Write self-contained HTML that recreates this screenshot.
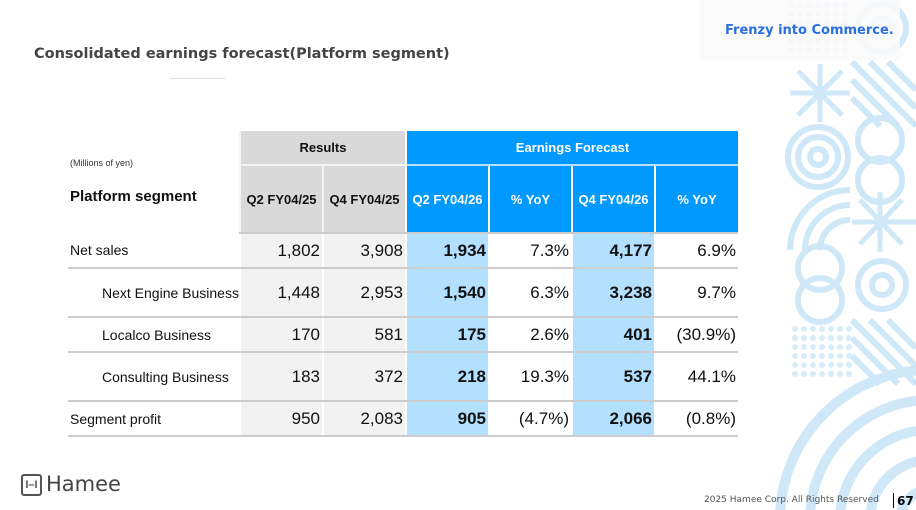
<!DOCTYPE html>
<html><head><meta charset="utf-8"><style>
html,body{margin:0;width:916px;height:510px;overflow:hidden}
body{position:relative;background:#fff;font-family:"Liberation Sans",Arial,sans-serif;}
.a{position:absolute;white-space:nowrap}
table{position:absolute;left:68px;top:131px;width:670px;border-collapse:collapse;table-layout:fixed;}
td{padding:0 2px;font-size:17px;color:#111;white-space:nowrap;overflow:hidden}
.g{background:#d9d9d9;font-weight:bold;font-size:13px;text-align:center;border-left:2px solid #f4f4f4;padding:0}
.b{background:#0099ff;color:#fff;font-weight:bold;font-size:13px;text-align:center;border-left:2px solid #fff;padding:0}
.r td{border-bottom:2px solid #ccc;}
.n{text-align:right;background:#f2f2f2;border-left:2px solid #fff}
.f{text-align:right;background:#b3e0ff;font-weight:bold;border-left:2px solid #fff}
.p{text-align:right;border-left:2px solid #fff}
.l{font-size:14px}
</style></head><body>
<svg class="a" style="left:0;top:0" width="916" height="510" fill="none" stroke="#cfe8f8" stroke-width="6">
<g fill="#d6ecfa" stroke="none">
<g id="dt"><circle cx="791" cy="5" r="3"/><circle cx="800" cy="5" r="3"/><circle cx="809" cy="5" r="3"/><circle cx="818" cy="5" r="3"/><circle cx="827" cy="5" r="3"/><circle cx="836" cy="5" r="3"/><circle cx="845" cy="5" r="3"/></g>
<use href="#dt" y="9"/><use href="#dt" y="18"/><use href="#dt" y="27"/><use href="#dt" y="36"/><use href="#dt" y="45"/>
<use href="#dt" x="4" y="324"/><use href="#dt" x="4" y="333"/><use href="#dt" x="4" y="342"/><use href="#dt" x="4" y="351"/><use href="#dt" x="4" y="360"/><use href="#dt" x="4" y="369"/>
</g>
<circle cx="882" cy="28" r="10"/><circle cx="882" cy="28" r="24"/>
<g stroke-width="5"><line x1="820" y1="64" x2="820" y2="122"/><line x1="790" y1="93" x2="850" y2="93"/><line x1="798" y1="71" x2="842" y2="115"/><line x1="842" y1="71" x2="798" y2="115"/></g>
<g stroke-width="6"><line x1="852" y1="62" x2="916" y2="126"/><line x1="852" y1="80" x2="898" y2="126"/><line x1="852" y1="98" x2="880" y2="126"/><line x1="870" y1="62" x2="916" y2="108"/><line x1="888" y1="62" x2="916" y2="90"/></g>
<circle cx="818" cy="157" r="8"/><circle cx="818" cy="157" r="20"/><circle cx="818" cy="157" r="30"/>
<circle cx="880" cy="140" r="22"/><circle cx="880" cy="180" r="22"/>
<path d="M790 250 A60 60 0 0 1 850 190 M805 250 A45 45 0 0 1 850 205 M820 250 A30 30 0 0 1 850 220"/>
<g stroke-width="5"><line x1="880" y1="192" x2="880" y2="252"/><line x1="852" y1="222" x2="916" y2="222"/><line x1="860" y1="200" x2="902" y2="244"/><line x1="902" y1="200" x2="860" y2="244"/></g>
<circle cx="820" cy="268" r="22"/><circle cx="820" cy="300" r="22"/>
<circle cx="882" cy="285" r="10"/><circle cx="882" cy="285" r="24"/>
<g stroke-width="6"><line x1="852" y1="320" x2="916" y2="384"/><line x1="852" y1="338" x2="898" y2="384"/><line x1="852" y1="356" x2="880" y2="384"/><line x1="870" y1="320" x2="916" y2="366"/><line x1="888" y1="320" x2="916" y2="348"/></g>
<circle cx="930" cy="520" r="30" stroke-width="10"/><circle cx="930" cy="520" r="60" stroke-width="10"/><circle cx="930" cy="520" r="90" stroke-width="10"/><circle cx="930" cy="520" r="120" stroke-width="10"/><circle cx="930" cy="520" r="150" stroke-width="10"/>
</svg>
<div class="a" style="left:700px;top:0;width:200px;height:60px;background:rgba(250,250,250,.85)"></div>
<div class="a" style="left:725px;top:23px;font-size:13px;font-weight:bold;color:#2a6fe0;font-family:'DejaVu Sans',sans-serif">Frenzy into Commerce.</div>
<div class="a" style="left:34px;top:46px;font-size:14.5px;font-weight:bold;color:#444;font-family:'DejaVu Sans',sans-serif">Consolidated earnings forecast(Platform segment)</div>
<div class="a" style="left:170px;top:78px;width:55px;height:1px;background:#ddd"></div>
<div class="a" style="left:70px;top:158px;font-size:9px;color:#333">(Millions of yen)</div>
<table>
<colgroup><col style="width:172px"><col style="width:83px"><col style="width:83px"><col style="width:83px"><col style="width:83px"><col style="width:83px"><col style="width:83px"></colgroup>
<tr style="height:34px"><td rowspan="2" style="vertical-align:bottom;padding:0 0 28px 2px;font-weight:bold;font-size:15px">Platform segment</td><td class="g" colspan="2" style="border-bottom:2px solid #f4f4f4">Results</td><td class="b" colspan="4" style="border-bottom:2px solid #b3e0ff">Earnings Forecast</td></tr>
<tr style="height:68px" class="r"><td class="g">Q2 FY04/25</td><td class="g">Q4 FY04/25</td><td class="b">Q2 FY04/26</td><td class="b">% YoY</td><td class="b">Q4 FY04/26</td><td class="b">% YoY</td></tr>
<tr style="height:35px" class="r"><td class="l" style="padding-left:2px">Net sales</td><td class="n">1,802</td><td class="n">3,908</td><td class="f">1,934</td><td class="p">7.3%</td><td class="f">4,177</td><td class="p">6.9%</td></tr>
<tr style="height:49px" class="r"><td class="l" style="padding-left:34px">Next Engine Business</td><td class="n">1,448</td><td class="n">2,953</td><td class="f">1,540</td><td class="p">6.3%</td><td class="f">3,238</td><td class="p">9.7%</td></tr>
<tr style="height:35px" class="r"><td class="l" style="padding-left:34px">Localco Business</td><td class="n">170</td><td class="n">581</td><td class="f">175</td><td class="p">2.6%</td><td class="f">401</td><td class="p">(30.9%)</td></tr>
<tr style="height:49px" class="r"><td class="l" style="padding-left:34px">Consulting Business</td><td class="n">183</td><td class="n">372</td><td class="f">218</td><td class="p">19.3%</td><td class="f">537</td><td class="p">44.1%</td></tr>
<tr style="height:35px" class="r"><td class="l" style="padding-left:2px">Segment profit</td><td class="n">950</td><td class="n">2,083</td><td class="f">905</td><td class="p">(4.7%)</td><td class="f">2,066</td><td class="p">(0.8%)</td></tr>
</table>
<div class="a" style="left:21px;top:474px;width:17px;height:18px;border:2px solid #555;border-radius:3px;font-size:11px;font-weight:bold;color:#555;text-align:center;line-height:18px">I–I</div>
<div class="a" style="left:46px;top:472px;font-size:21px;color:#444;font-family:'DejaVu Sans',sans-serif">Hamee</div>
<div class="a" style="left:704px;top:495px;font-size:9px;color:#555;font-family:'DejaVu Sans',sans-serif">2025 Hamee Corp. All Rights Reserved</div>
<div class="a" style="left:893px;top:493px;width:1px;height:15px;background:#000"></div>
<div class="a" style="left:897px;top:494px;font-size:12px;font-weight:bold;color:#000;font-family:'DejaVu Sans',sans-serif">67</div>
</body></html>
